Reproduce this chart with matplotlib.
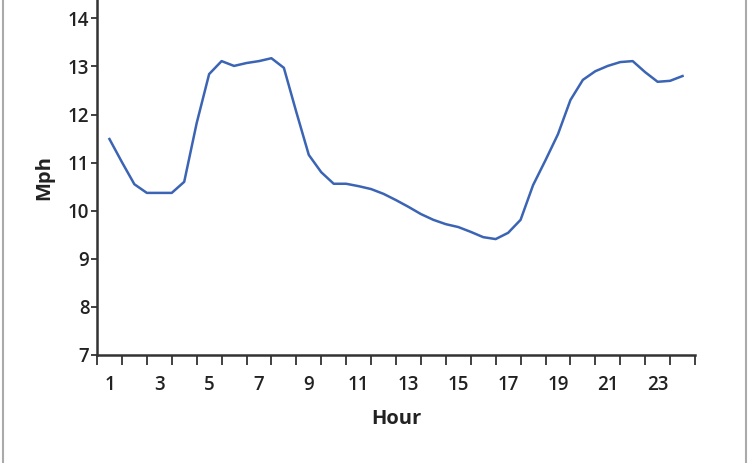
import matplotlib
matplotlib.use("Agg")
import matplotlib.pyplot as plt
from matplotlib.lines import Line2D

# half-hour readings of average speed
hours = [1, 1.5, 2, 2.5, 3, 3.5, 4, 4.5, 5, 5.5, 6, 6.5, 7, 7.5, 8, 8.5,
         9, 9.5, 10, 10.5, 11, 11.5, 12, 12.5, 13, 13.5, 14, 14.5, 15, 15.5,
         16, 16.5, 17, 17.5, 18, 18.5, 19, 19.5, 20, 20.5, 21, 21.5, 22, 22.5,
         23, 23.5, 24]
mph = [11.49, 11.01, 10.55, 10.37, 10.37, 10.37, 10.60, 11.82, 12.84, 13.11,
       13.01, 13.07, 13.11, 13.17, 12.97, 12.05, 11.16, 10.80, 10.56, 10.56,
       10.51, 10.45, 10.35, 10.22, 10.08, 9.93, 9.81, 9.72, 9.66, 9.56,
       9.45, 9.41, 9.54, 9.81, 10.53, 11.05, 11.59, 12.30, 12.72, 12.90,
       13.01, 13.09, 13.11, 12.88, 12.68, 12.70, 12.80]
x_labels = [1, 3, 5, 7, 9, 11, 13, 15, 17, 19, 21, 23]
y_ticks = [7, 8, 9, 10, 11, 12, 13, 14]

plt.rcParams['font.family'] = ['Open Sans', 'DejaVu Sans']
axis_col = '#333333'

fig = plt.figure(figsize=(7.5, 4.63), dpi=100)
ax = fig.add_axes([97 / 750, 1 - 355 / 463, 598 / 750, 355 / 463])

ax.plot(hours, mph, color='#3b64b4', lw=1.8, solid_joinstyle='round')

ax.set_xlim(0.5, 24.5)
ax.set_ylim(7, 7 + 355 / 48.1)

# boundary ticks between hours, labels centred on the hour
ax.set_xticks([h + 0.5 for h in range(0, 25)])
ax.set_xticklabels([])
ax.set_xticks(x_labels, minor=True)
ax.set_xticklabels([str(h) for h in x_labels], minor=True)
ax.tick_params(axis='x', which='major', length=7, width=1.3, color=axis_col, direction='out')
ax.tick_params(axis='x', which='minor', length=0, pad=14.5, labelsize=13.5, labelcolor='#222222')

ax.set_yticks(y_ticks)
ax.set_yticklabels([str(v) for v in y_ticks])
ax.tick_params(axis='y', length=4, width=1.3, color=axis_col, pad=1.5, labelsize=13.5, labelcolor='#222222')

for lab in ax.get_xticklabels(minor=True) + ax.get_yticklabels():
    lab.set_fontweight('semibold')

for s in ['top', 'right']:
    ax.spines[s].set_visible(False)
for s in ['left', 'bottom']:
    ax.spines[s].set_color(axis_col)
    ax.spines[s].set_linewidth(1.8)

ax.set_xlabel('Hour', fontsize=14.5, fontweight='bold', color='#222222', labelpad=10)
ax.set_ylabel('Mph', fontsize=14.5, fontweight='bold', color='#222222', labelpad=10)

# grey frame lines at left and right edges
fig.add_artist(Line2D([3 / 750, 3 / 750], [0, 1], color='#aaaaaa', lw=1.5))
fig.add_artist(Line2D([746 / 750, 746 / 750], [0, 1], color='#aaaaaa', lw=1.5))

fig.savefig('out.png', dpi=100)
